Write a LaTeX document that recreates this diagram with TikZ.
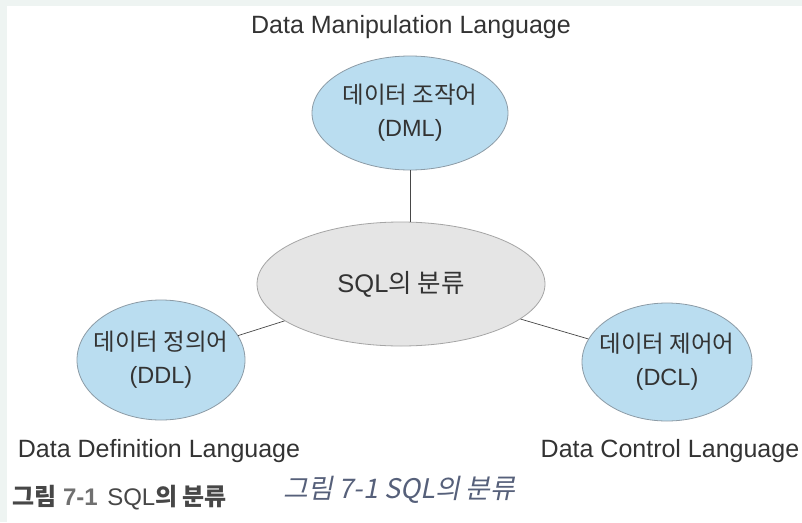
\documentclass[tikz,border=0pt]{standalone}
\usepackage{fontspec}
\setmainfont{Liberation Sans}
\newfontfamily\kr{Noto Sans CJK KR}
\newfontfamily\krit[FakeSlant=0.2]{Noto Sans CJK KR}
\usetikzlibrary{shapes.geometric}

\definecolor{bubble}{HTML}{BADDF0}
\definecolor{bubbleline}{HTML}{8C9BA6}
\definecolor{hub}{HTML}{E5E5E5}
\definecolor{hubline}{HTML}{A5A5A5}
\definecolor{ink}{HTML}{333333}
\definecolor{strip}{HTML}{EEF4F2}
\definecolor{capblue}{HTML}{56607A}

\tikzset{
  lang/.style={ellipse, draw=bubbleline, fill=bubble, line width=0.8pt, inner sep=-30pt,
    text=ink, align=center, font=\fontsize{23.5}{33}\selectfont},
  core/.style={ellipse, draw=hubline, fill=hub, line width=0.8pt, inner sep=-30pt,
    text=ink, font=\fontsize{25.5}{30}\selectfont},
  engl/.style={text=ink, inner sep=0pt, font=\fontsize{25}{30}\selectfont},
  link/.style={draw=ink!90, line width=0.7pt}
}

\begin{document}
\begin{tikzpicture}[x=1pt, y=-1pt]
\useasboundingbox (0,0) rectangle (802,522);
\fill[strip] (0,0) rectangle (802,522);
\fill[white] (7,6) rectangle (802,522);

% the three kinds around the centre
\node[core, minimum width=288pt, minimum height=124pt] (sql) at (401,284) {SQL{\kr 의 분류}};
\node[lang, minimum width=196pt, minimum height=114pt] (dml) at (410,113) {{\kr 데이터 조작어}\\(DML)};
\node[lang, minimum width=168pt, minimum height=120pt] (ddl) at (161,360) {{\kr 데이터 정의어}\\(DDL)};
\node[lang, minimum width=170pt, minimum height=118pt] (dcl) at (667,362) {{\kr 데이터 제어어}\\(DCL)};

\draw[link] (dml.south) -- (dml.south |- sql.north);
\draw[link] (ddl) -- (sql);
\draw[link] (dcl) -- (sql);

% english names
\node[engl] (dmlname) at (411,27) {Data Manipulation Language};
\node[engl] (ddlname) at (159,451) {Data Definition Language};
\node[engl] (dclname) at (670,451) {Data Control Language};

% captions
\node[anchor=west, inner sep=0pt, text=ink!90, font=\fontsize{24}{28}\selectfont] (cap) at (12,498)
  {{\kr\bfseries 그림} \textbf{\color{ink!70}7-1}\hspace{0.4em}SQL{\kr\bfseries 의 분류}};
\node[anchor=west, inner sep=0pt, text=capblue, font=\fontsize{27}{30}\selectfont\krit] (capit) at (283,490) {그림 7-1 SQL의 분류};
\end{tikzpicture}
\end{document}
